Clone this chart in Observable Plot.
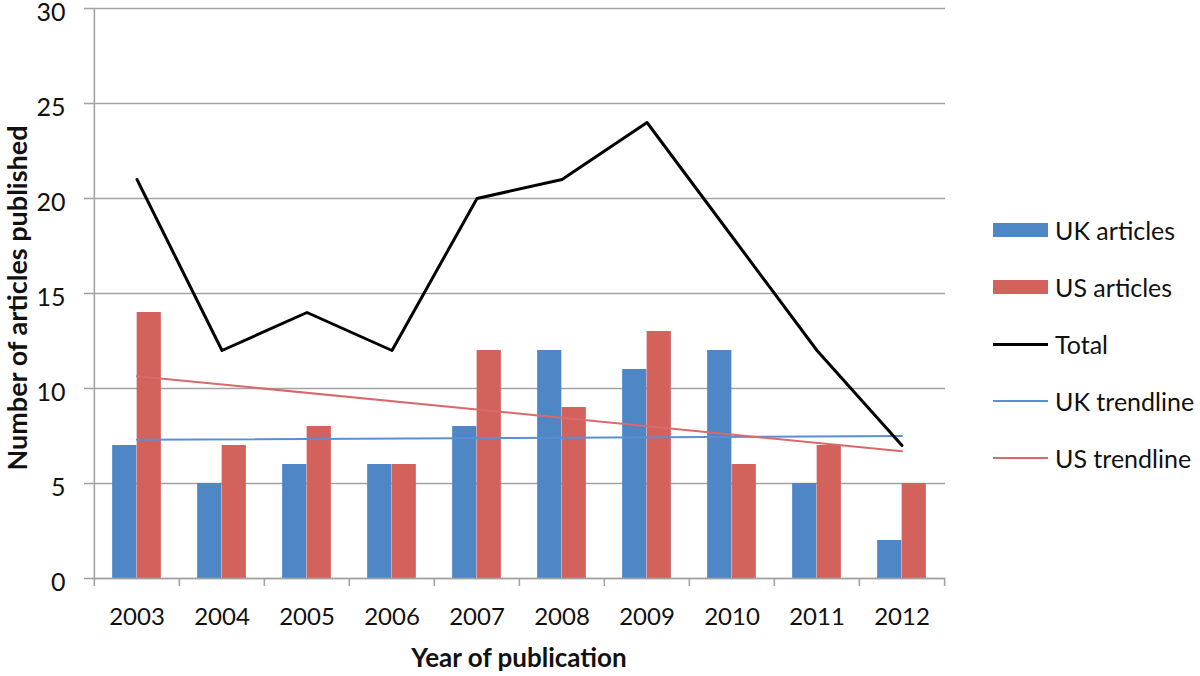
<!DOCTYPE html>
<html>
<head>
<meta charset="utf-8">
<script src="https://cdn.jsdelivr.net/npm/d3@7"></script>
<script src="https://cdn.jsdelivr.net/npm/@observablehq/plot@0.6"></script>
<style>
  html, body { margin: 0; padding: 0; background: #fff; }
  #wrap { position: relative; width: 1200px; height: 676px; font-family: Lato, "Open Sans", sans-serif; }
  #chart svg { overflow: visible; }
  #legend { position: absolute; left: 993px; top: 200px; }
  .item { position: absolute; left: 0; height: 30px; display: flex; align-items: center; white-space: nowrap; font-size: 25px; color: #111; }
  .sw { width: 55px; margin-right: 7px; }
  #ytitle { position: absolute; left: 16px; top: 298px; transform: translate(-50%, -50%) rotate(-90deg); font-weight: 700; font-size: 27px; white-space: nowrap; color: #111; }
</style>
</head>
<body>
<div id="wrap">
  <div id="chart"></div>
  <div id="ytitle">Number of articles published</div>
  <div id="legend"></div>
</div>
<script>
// ---- data ----
const years = ["2003","2004","2005","2006","2007","2008","2009","2010","2011","2012"];
const ukArticles = [7, 5, 6, 6, 8, 12, 11, 12, 5, 2];
const usArticles = [14, 7, 8, 6, 12, 9, 13, 6, 7, 5];
const totalArticles = [21, 12, 14, 12, 20, 21, 24, 18, 12, 7];
const trendYears = ["2003", "2012"];
const ukTrend = [7.3, 7.5];
const usTrend = [10.65, 6.7];
const yTicks = [0, 5, 10, 15, 20, 25, 30];

const seriesNames = ["UK articles", "US articles", "Total", "UK trendline", "US trendline"];
const colors = {uk: "#4f86c6", us: "#d3625d", total: "#000000", ukTrend: "#5b8fd3", usTrend: "#d86a6b"};

// ---- layout ----
const W = 1200, H = 676;
const mLeft = 92, mRight = 255, mTop = 8, mBottom = 98;
const bw = (W - mLeft - mRight) / years.length;
const gray = "#a3a3a3";

const rows = years.map((y, i) => ({year: y, uk: ukArticles[i], us: usArticles[i], total: totalArticles[i]}));
const ukT = trendYears.map((y, i) => ({year: y, v: ukTrend[i]}));
const usT = trendYears.map((y, i) => ({year: y, v: usTrend[i]}));

const chart = Plot.plot({
  width: W,
  height: H,
  marginLeft: mLeft,
  marginRight: mRight,
  marginTop: mTop,
  marginBottom: mBottom,
  style: {fontFamily: "Lato, 'Open Sans', sans-serif", background: "#fff", color: "#111"},
  x: {type: "band", domain: years, padding: 0},
  y: {domain: [0, 30]},
  marks: [
    Plot.gridY(yTicks, {stroke: gray, strokeOpacity: 1, strokeWidth: 1.6}),
    Plot.axisY(yTicks, {tickSize: 8, tickFormat: () => "", stroke: gray, strokeWidth: 1.6, label: null}),
    Plot.axisY(yTicks, {tickSize: 0, tickPadding: 27, fontSize: 25, dy: 4, label: null, fill: "#111"}),
    Plot.ruleX(["2003"], {x: d => d, y1: 0, y2: 30, dx: -bw / 2, stroke: gray, strokeWidth: 1.6}),
    Plot.barY(rows, {x: "year", y: "uk", fill: colors.uk, insetLeft: bw / 2 - 24.5, insetRight: bw / 2}),
    Plot.barY(rows, {x: "year", y: "us", fill: colors.us, insetLeft: bw / 2, insetRight: bw / 2 - 24.5}),
    Plot.ruleY([0], {stroke: gray, strokeWidth: 1.6}),
    Plot.axisX({tickSize: 8, dx: -bw / 2, tickFormat: () => "", stroke: gray, strokeWidth: 1.6, label: null}),
    Plot.ruleX(["2012"], {x: d => d, y1: 0, y2: -0.42, dx: bw / 2, stroke: gray, strokeWidth: 1.6}),
    Plot.axisX({tickSize: 0, tickPadding: 29, fontSize: 24, label: null, fill: "#111"}),
    Plot.line(ukT, {x: "year", y: "v", stroke: colors.ukTrend, strokeWidth: 2}),
    Plot.line(usT, {x: "year", y: "v", stroke: colors.usTrend, strokeWidth: 2}),
    Plot.line(rows, {x: "year", y: "total", stroke: colors.total, strokeWidth: 3}),
    Plot.text(["Year of publication"], {frameAnchor: "bottom", dy: 88, text: d => d, fontSize: 26, fontWeight: "bold", fill: "#111"})
  ]
});
document.getElementById("chart").appendChild(chart);

// ---- legend ----
const legend = document.getElementById("legend");
const legendDefs = [
  {name: seriesNames[0], color: colors.uk, h: 14},
  {name: seriesNames[1], color: colors.us, h: 14},
  {name: seriesNames[2], color: colors.total, h: 3},
  {name: seriesNames[3], color: colors.ukTrend, h: 2},
  {name: seriesNames[4], color: colors.usTrend, h: 2}
];
legendDefs.forEach((d, i) => {
  const item = document.createElement("div");
  item.className = "item";
  item.style.top = (15 + i * 57) + "px";
  const sw = document.createElement("div");
  sw.className = "sw";
  sw.style.height = d.h + "px";
  sw.style.background = d.color;
  const lab = document.createElement("span");
  lab.textContent = d.name;
  item.appendChild(sw);
  item.appendChild(lab);
  legend.appendChild(item);
});
</script>
</body>
</html>
